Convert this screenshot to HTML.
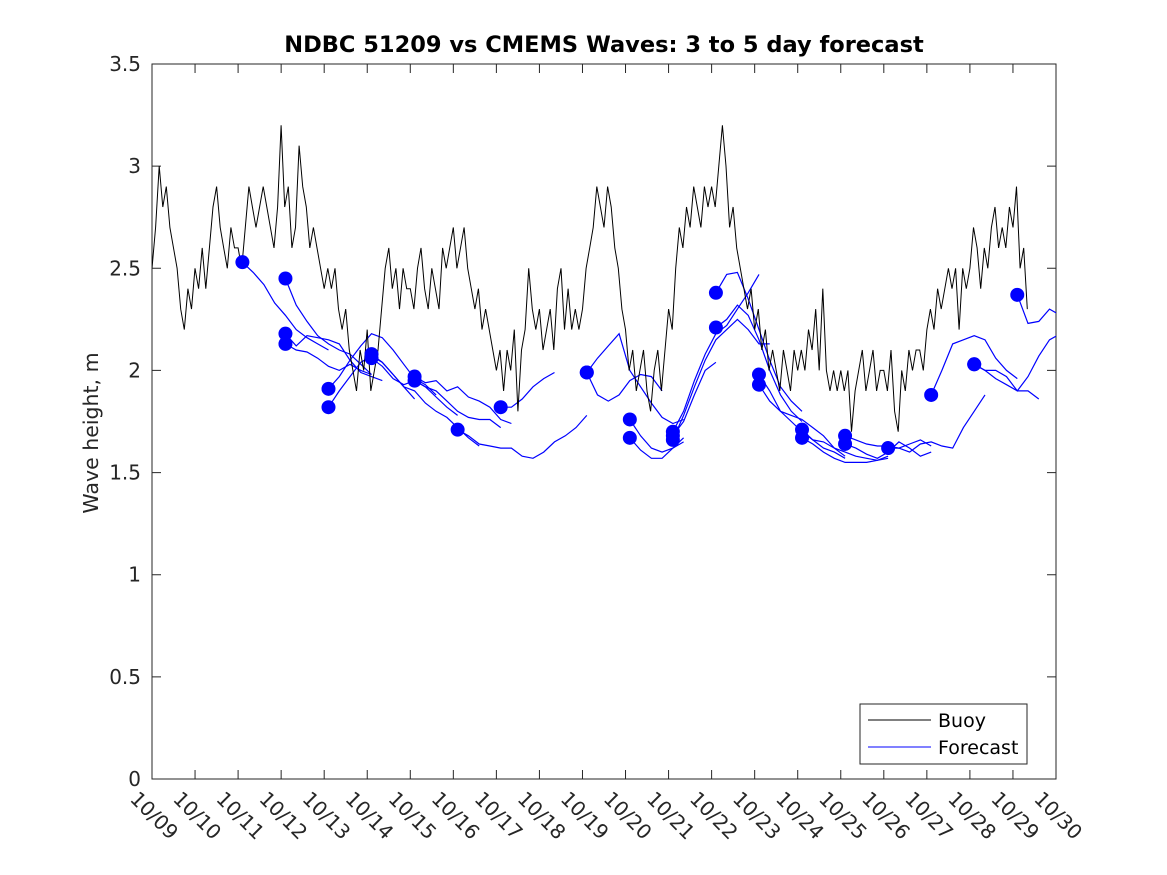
<!DOCTYPE html>
<html><head><meta charset="utf-8"><style>
body{margin:0;background:#fff;}
svg{display:block;font-family:"DejaVu Sans","Liberation Sans",sans-serif;}
</style></head><body>
<svg id="chart" width="1167" height="875">
<defs><clipPath id="plotclip"><rect x="152" y="64" width="904" height="715"/></clipPath></defs>
<rect x="0" y="0" width="1167" height="875" fill="#fff"/>
<text x="604" y="52" text-anchor="middle" font-size="22.5" font-weight="bold" fill="#000">NDBC 51209 vs CMEMS Waves: 3 to 5 day forecast</text>
<text transform="translate(98,433) rotate(-90)" text-anchor="middle" font-size="20.5" fill="#262626">Wave height, m</text>
<g id="axes"></g>
<g id="series" clip-path="url(#plotclip)"></g>
<g>
<rect x="860" y="704" width="167" height="60" fill="#fff" stroke="#262626" stroke-width="1"/>
<line x1="868" y1="720" x2="931" y2="720" stroke="#000"/>
<text x="938" y="727" font-size="19" fill="#000">Buoy</text>
<line x1="868" y1="747" x2="931" y2="747" stroke="#0000ff"/>
<text x="938" y="754" font-size="19" fill="#000">Forecast</text>
</g>
</svg>
<script>
const yTicks = [0,0.5,1,1.5,2,2.5,3,3.5];
const yTickLabels = ["0","0.5","1","1.5","2","2.5","3","3.5"];
const xTickLabels = ["10/09","10/10","10/11","10/12","10/13","10/14","10/15","10/16","10/17","10/18","10/19","10/20","10/21","10/22","10/23","10/24","10/25","10/26","10/27","10/28","10/29","10/30"];
// buoy values every 2 hours starting 10/09 00:00
const buoyValues = [
2.5,2.7,3.0,2.8,2.9,2.7,2.6,2.5,2.3,2.2,2.4,2.3,
2.5,2.4,2.6,2.4,2.6,2.8,2.9,2.7,2.6,2.5,2.7,2.6,
2.6,2.5,2.7,2.9,2.8,2.7,2.8,2.9,2.8,2.7,2.6,2.8,
3.2,2.8,2.9,2.6,2.7,3.1,2.9,2.8,2.6,2.7,2.6,2.5,
2.4,2.5,2.4,2.5,2.3,2.2,2.3,2.1,2.0,1.9,2.1,2.0,
2.2,1.9,2.0,2.1,2.3,2.5,2.6,2.4,2.5,2.3,2.5,2.4,
2.4,2.3,2.5,2.6,2.4,2.3,2.5,2.4,2.3,2.6,2.5,2.6,
2.7,2.5,2.6,2.7,2.5,2.4,2.3,2.4,2.2,2.3,2.2,2.1,
2.0,2.1,1.9,2.1,2.0,2.2,1.8,2.1,2.2,2.5,2.3,2.2,
2.3,2.1,2.2,2.3,2.1,2.4,2.5,2.2,2.4,2.2,2.3,2.2,
2.3,2.5,2.6,2.7,2.9,2.8,2.7,2.9,2.8,2.6,2.5,2.3,
2.2,2.0,2.1,1.9,2.0,2.1,1.9,1.8,2.0,2.1,1.9,2.1,
2.3,2.2,2.5,2.7,2.6,2.8,2.7,2.9,2.8,2.7,2.9,2.8,
2.9,2.8,3.0,3.2,3.0,2.7,2.8,2.6,2.5,2.4,2.3,2.4,
2.2,2.3,2.1,2.2,2.0,2.1,2.0,1.9,2.1,2.0,1.9,2.1,
2.0,2.1,2.0,2.2,2.1,2.3,2.0,2.4,2.0,1.9,2.0,1.9,
2.0,1.9,2.0,1.7,1.9,2.0,2.1,1.9,2.0,2.1,1.9,2.0,
2.0,1.9,2.1,1.8,1.7,2.0,1.9,2.1,2.0,2.1,2.1,2.0,
2.2,2.3,2.2,2.4,2.3,2.4,2.5,2.4,2.5,2.2,2.5,2.4,
2.5,2.7,2.6,2.4,2.6,2.5,2.7,2.8,2.6,2.7,2.6,2.8,
2.7,2.9,2.5,2.6,2.3];
// forecast runs: start day offsets and values every 6 hours
const runStarts = [2.1,3.1,3.1,3.1,4.1,4.1,5.1,5.1,6.1,6.1,7.1,8.1,10.1,10.1,11.1,11.1,12.1,12.1,12.1,13.1,13.1,14.1,14.1,15.1,15.1,16.1,16.1,17.1,18.1,19.1,19.1,20.1];
const runValues = [
[2.53,2.48,2.42,2.33,2.27,2.20,2.16,2.13,2.10],
[2.45,2.32,2.24,2.17,2.13,2.10,2.08,2.03,1.98],
[2.18,2.12,2.17,2.16,2.15,2.13,2.05,1.99,1.97,1.95],
[2.13,2.10,2.09,2.06,2.02,2.00,2.03,2.00,1.98],
[1.91,1.97,2.05,2.12,2.18,2.16,2.10,2.03,1.96,1.93,1.88],
[1.82,1.90,1.97,2.04,2.07,2.04,1.98,1.92,1.86],
[2.08,2.04,1.98,1.92,1.90,1.84,1.80,1.77,1.72,1.67,1.63],
[2.06,2.02,1.96,1.93,1.95,1.92,1.87,1.82,1.78],
[1.97,1.94,1.95,1.90,1.92,1.87,1.85,1.82,1.76,1.74],
[1.95,1.92,1.90,1.85,1.80,1.77,1.76,1.76,1.72],
[1.71,1.68,1.64,1.63,1.62,1.62,1.58,1.57,1.60,1.65,1.68,1.72,1.78],
[1.82,1.82,1.86,1.92,1.96,1.99],
[1.99,2.06,2.12,2.18,2.00,1.92,1.84,1.77,1.74,1.76],
[1.99,1.88,1.85,1.88,1.95,1.98,1.97,1.90],
[1.76,1.68,1.62,1.60,1.62,1.65],
[1.67,1.61,1.57,1.57,1.62,1.67],
[1.70,1.80,1.95,2.08,2.18,2.22,2.30,2.38,2.47],
[1.66,1.78,1.92,2.05,2.15,2.20,2.25,2.20,2.13,2.13],
[1.68,1.75,1.88,2.00,2.04],
[2.38,2.47,2.48,2.35,2.20,2.05,1.92,1.85,1.80],
[2.21,2.25,2.32,2.27,2.15,2.00,1.88,1.80,1.75],
[1.98,1.90,1.80,1.75,1.70,1.66,1.62,1.60,1.57],
[1.93,1.85,1.80,1.78,1.76,1.72,1.68,1.62,1.58],
[1.71,1.66,1.65,1.62,1.60,1.58,1.57,1.56,1.57],
[1.67,1.64,1.60,1.57,1.55,1.55,1.55,1.56,1.58],
[1.68,1.66,1.64,1.63,1.63,1.62,1.64,1.66,1.63],
[1.64,1.62,1.59,1.57,1.60,1.65,1.62,1.58,1.60],
[1.62,1.62,1.60,1.64,1.65,1.63,1.62,1.72,1.80,1.88],
[1.88,2.00,2.13,2.15,2.17,2.15,2.06,2.00,1.96],
[2.03,2.00,1.96,1.93,1.90,1.90,1.86],
[2.03,2.00,2.00,1.97,1.90,1.97,2.07,2.15,2.18],
[2.37,2.23,2.24,2.30,2.27]];

const L=152,R=1056,T=64,B=779, X0=0,X1=21,Y0=0,Y1=3.5;
const xs=d=>L+(d-X0)/(X1-X0)*(R-L);
const ys=v=>B-(v-Y0)/(Y1-Y0)*(B-T);
const NS="http://www.w3.org/2000/svg";
function mk(tag,attrs,parent){const e=document.createElementNS(NS,tag);for(const k in attrs)e.setAttribute(k,attrs[k]);parent.appendChild(e);return e;}
const ax=document.getElementById('axes'), se=document.getElementById('series');

const frame=mk('rect',{x:L,y:T,width:R-L,height:B-T,fill:'none',stroke:'#262626','stroke-width':1},ax);


yTicks.forEach((v,i)=>{
  const y=ys(v);
  const t=mk('path',{d:`M${L},${y}h9M${R},${y}h-9`,stroke:'#262626','stroke-width':1},ax);
  
  
  const lb=mk('text',{x:L-11,y:y+7,'text-anchor':'end','font-size':'20',fill:'#262626'},ax);
  lb.textContent=yTickLabels[i];
  
  
});
xTickLabels.forEach((s,i)=>{
  const x=xs(i);
  const t=mk('path',{d:`M${x},${B}v-9M${x},${T}v9`,stroke:'#262626','stroke-width':1},ax);
  
  
  const lb=mk('text',{x:x-23,y:800,'font-size':'20',fill:'#262626',transform:`rotate(45 ${x-23} 800)`},ax);
  lb.textContent=s;
  
  
});

runValues.forEach((vals,r)=>{
  const pts=vals.map((v,i)=>xs(runStarts[r]+i*0.25).toFixed(1)+','+ys(v).toFixed(1)).join(' ');
  const pl=mk('polyline',{points:pts,fill:'none',stroke:'#0000ff','stroke-width':1.2},se);
  
  
});
const bp=buoyValues.map((v,i)=>xs(i/12).toFixed(1)+','+ys(v).toFixed(1)).join(' ');
const bl=mk('polyline',{points:bp,fill:'none',stroke:'#000','stroke-width':1},se);


runValues.forEach((vals,r)=>{
  const c=mk('circle',{cx:xs(runStarts[r]),cy:ys(vals[0]),r:7,fill:'#0000ff'},se);
  
  
});
</script>
</body></html>
